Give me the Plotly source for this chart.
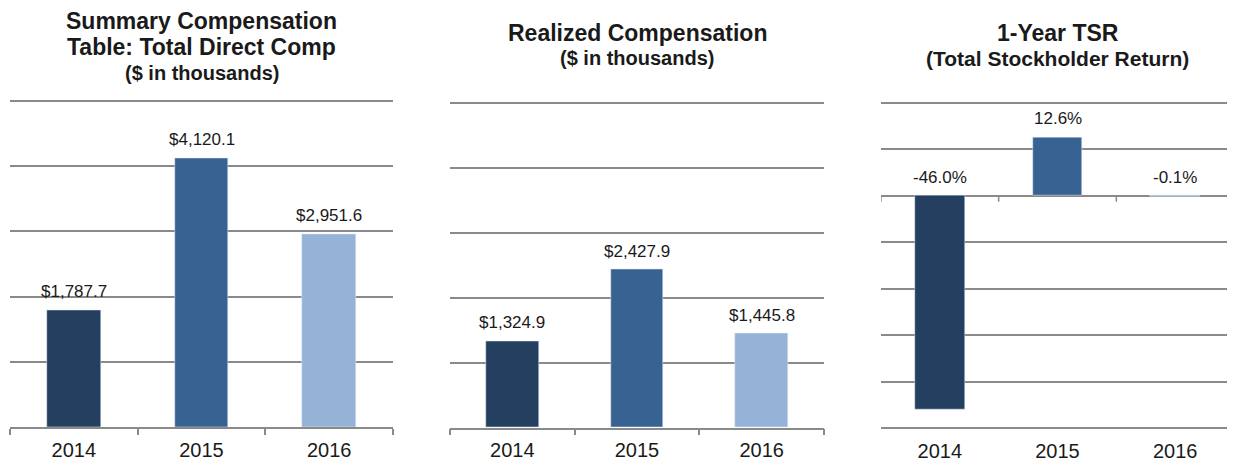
import plotly.graph_objects as go

# ---- data ----
years = ["2014", "2015", "2016"]
sct_total = [1787.7, 4120.1, 2951.6]      # $ thousands
realized = [1324.9, 2427.9, 1445.8]       # $ thousands
tsr = [-46.0, 12.6, -0.1]                 # percent
bar_colors = ["#243F60", "#386292", "#95B3D7"]

# page body has an 8px margin; figure sized so it ends at the window edge
OFF = 8
W, H = 1235 - OFF, 470 - OFF
GRID = "#8a8a8a"
TXT = "#1a1a1a"
FONT = "Liberation Sans, Arial, sans-serif"

def px(x):
    return (x - OFF) / W

def py(y):
    return 1 - (y - OFF) / H

def ydomain(lo_pix, hi_pix, lo, hi, pad_lo, pad_hi):
    """domain for an axis whose value lo sits at lo_pix and hi at hi_pix, range padded"""
    scale = (lo_pix - hi_pix) / (hi - lo)
    return ([py(lo_pix + pad_lo * scale), py(hi_pix - pad_hi * scale)],
            [lo - pad_lo, hi + pad_hi])

idx = list(range(len(years)))
bounds = [i - 0.5 for i in range(len(years) + 1)]

ydom1, yr1 = ydomain(427.3, 100.5, 0, 5000, 0, 50)
ydom2, yr2 = ydomain(427.5, 102.5, 0, 5000, 0, 50)
ydom3, yr3 = ydomain(428.3, 102.7, -50, 20, 0.7, 0.7)

fig = go.Figure()
fig.add_trace(go.Bar(x=idx, y=sct_total, marker=dict(color=bar_colors), width=0.42,
                     xaxis="x", yaxis="y"))
fig.add_trace(go.Bar(x=idx, y=realized, marker=dict(color=bar_colors), width=0.42,
                     xaxis="x2", yaxis="y2"))
fig.add_trace(go.Bar(x=idx, y=tsr, marker=dict(color=bar_colors), width=0.42,
                     xaxis="x3", yaxis="y3"))

annotations = []
for xr, yr, vals, fmt in [("x", "y", sct_total, lambda v: f"${v:,.1f}"),
                          ("x2", "y2", realized, lambda v: f"${v:,.1f}"),
                          ("x3", "y3", tsr, lambda v: f"{v:.1f}%")]:
    for i, v in zip(idx, vals):
        annotations.append(dict(x=i, y=max(v, 0), xref=xr, yref=yr, text=fmt(v),
                                showarrow=False, yanchor="bottom", yshift=7,
                                font=dict(size=17, color=TXT, family=FONT)))

# titles
titles = [
    ((10 + 393) / 2, 21, "Summary Compensation", 23),
    ((10 + 393) / 2, 47, "Table: Total Direct Comp", 23),
    ((10 + 393) / 2, 73, "($ in thousands)", 20),
    ((450 + 824) / 2, 33, "Realized Compensation", 23),
    ((450 + 824) / 2, 58, "($ in thousands)", 20),
    ((881 + 1234) / 2, 33, "1-Year TSR", 23),
    ((881 + 1234) / 2, 58, "(Total Stockholder Return)", 21),
]
for x, y, t, s in titles:
    annotations.append(dict(x=px(x), y=py(y), xref="paper", yref="paper", text=f"<b>{t}</b>",
                            showarrow=False, xanchor="center", yanchor="middle",
                            font=dict(size=s, color=TXT, family=FONT)))

def xaxis(dom, anchor, line, pad):
    d = dict(domain=dom, anchor=anchor, range=[-0.5, len(years) - 0.5],
             tickmode="array", tickvals=idx, ticktext=years,
             ticks="outside", ticklen=pad, tickcolor="rgba(0,0,0,0)",
             showgrid=False, zeroline=False, fixedrange=True,
             tickfont=dict(size=20, color=TXT, family=FONT))
    if line:
        d.update(showline=True, linecolor=GRID, linewidth=1.5,
                 minor=dict(tickmode="array", tickvals=bounds, ticks="outside",
                            ticklen=6, tickcolor=GRID, tickwidth=1.5, showgrid=False))
    else:
        d.update(showline=False)
    return d

ycommon = dict(showticklabels=False, showgrid=True, gridcolor=GRID, gridwidth=1.5,
               ticks="", fixedrange=True)

shapes = []
for b in bounds:
    shapes.append(dict(type="line", xref="x3", yref="y3", x0=b, x1=b,
                       ysizemode="pixel", yanchor=0, y0=0, y1=-6,
                       line=dict(color=GRID, width=1.5)))

fig.update_layout(
    width=W, height=H,
    margin=dict(l=0, r=0, t=0, b=0),
    paper_bgcolor="white", plot_bgcolor="white",
    showlegend=False, bargap=0,
    font=dict(family=FONT, color=TXT),
    xaxis=xaxis([px(10), px(393)], "y", True, 4),
    yaxis=dict(domain=ydom1, anchor="x", range=yr1, tick0=0, dtick=1000, zeroline=False, **ycommon),
    xaxis2=xaxis([px(450), px(824)], "y2", True, 4),
    yaxis2=dict(domain=ydom2, anchor="x2", range=yr2, tick0=0, dtick=1000, zeroline=False, **ycommon),
    xaxis3=xaxis([px(881), px(1234)], "y3", False, 1),
    yaxis3=dict(domain=ydom3, anchor="x3", range=yr3, tick0=0, dtick=10, zeroline=True,
                zerolinecolor=GRID, zerolinewidth=1.5, **ycommon),
    annotations=annotations,
    shapes=shapes,
)

fig.write_html("out.html")
